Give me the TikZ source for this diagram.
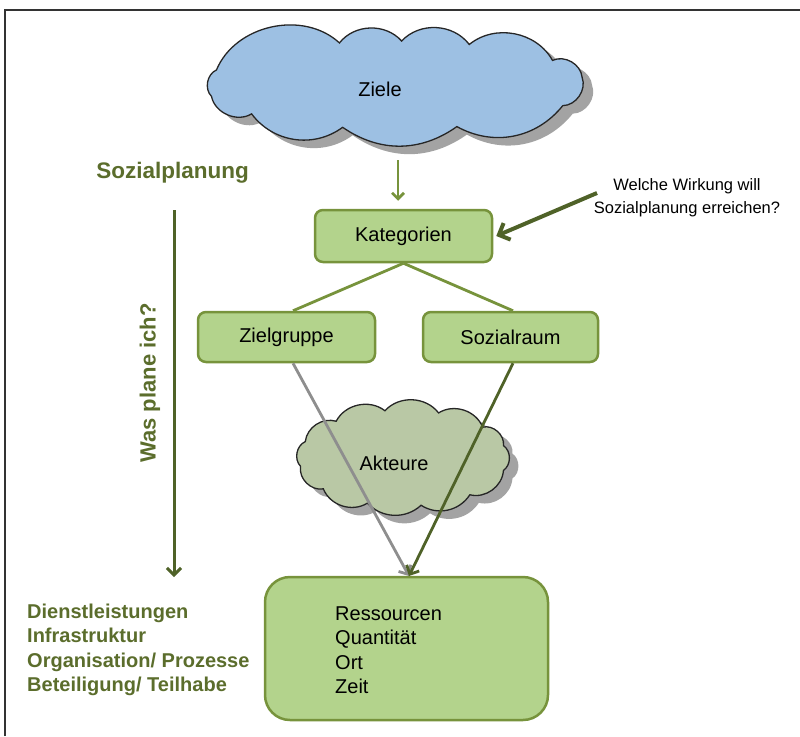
\documentclass[tikz,border=0pt]{standalone}
\usepackage{fontspec}
\setmainfont{Liberation Sans}
\usetikzlibrary{arrows.meta}
\definecolor{boxfill}{HTML}{B3D38C}
\definecolor{boxline}{HTML}{77933C}
\definecolor{darkgreen}{HTML}{4F6228}
\definecolor{olivetext}{HTML}{5B6D2C}
\definecolor{cloudblue}{HTML}{9DC0E3}
\definecolor{cloudgreen}{HTML}{B9C8A5}
\definecolor{shadowgray}{HTML}{A3A3A3}
\definecolor{arrowgray}{HTML}{8E8E8E}
% #1 style, #2 cx, #3 cy, #4 rx, #5 ry, #6 start angle, #7 macro holding list angle/bend
\newcommand\puffcloud[7]{%
  \path[#1] ({#2+#4*cos(#6)},{#3+#5*sin(#6)})
    \foreach \a/\b in #7 { to[bend left=\b] ({#2+#4*cos(\a)},{#3+#5*sin(\a)}) } -- cycle;}
\begin{document}
\begin{tikzpicture}[x=1pt,y=-1pt,
  box/.style={draw=boxline, fill=boxfill, line width=2.5pt, rounded corners=8pt,
    font=\fontsize{20}{24}\selectfont, inner sep=0pt},
  cloudline/.style={draw=black!85, line width=1.3pt, line join=miter},
  boldlabel/.style={text=olivetext, inner sep=0pt},
  conn/.style={draw=boxline, line width=2.8pt},
  barb/.style={-{Straight Barb[length=#1, width=2*#1]}}
]
\useasboundingbox (0,0) rectangle (800,736);
% frame
\draw[line width=1.5pt, black!80] (5,736) -- (5,10) -- (800,10);

% Ziele cloud
\coordinate (ziele) at (395,85);
\def\zieleangles{71/40, 106/35, 139/45, 165/55, 200/55, 253/55, 272/50, 293/50, 326/50, 350/55, 388/55}
\puffcloud{fill=shadowgray}{405}{93}{190}{44}{28}{\zieleangles}
\puffcloud{cloudline, fill=cloudblue}{395}{85}{190}{44}{28}{\zieleangles}
\node[font=\fontsize{20}{24}\selectfont, inner sep=0pt] (zieletext) at (380,89) {Ziele};

% boxes
\node[box, minimum width=177pt, minimum height=52pt] (kat) at (403.5,236) {Kategorien};
\node[box, minimum width=177pt, minimum height=50pt] (zg) at (286.5,337) {Zielgruppe};
\node[box, minimum width=175pt, minimum height=50pt] (sr) at (510.5,337) {Sozialraum};
\node[box, rounded corners=25pt, minimum width=283pt, minimum height=143pt] (res) at (406.5,648.5) {};
\node[anchor=west, align=left, inner sep=0pt, font=\fontsize{20}{24.5}\selectfont] (restext) at (335,650)
  {Ressourcen\\Quantit\"at\\Ort\\Zeit};

% top arrow
\coordinate (ztop) at (398,160);
\draw[conn, barb=6pt, shorten >=8pt] (ztop) -- (kat.north -| ztop);

% connectors Kategorien -> Zielgruppe / Sozialraum
\draw[conn] (kat.south) -- ([xshift=6.5pt]zg.north);
\draw[conn] (kat.south) -- ([xshift=2.5pt]sr.north);

% Welche Wirkung
\node[align=center, inner sep=0pt, font=\fontsize{16.5}{23}\selectfont] (welche) at (687,197.5)
  {Welche Wirkung will\\Sozialplanung erreichen?};
\coordinate (wstart) at (597,193);
\draw[darkgreen, line width=4pt, barb=9pt] (wstart) -- ([xshift=3pt]kat.east);

% Akteure cloud
\coordinate (akt) at (403,458);
\def\aktangles{50/50, 80/45, 110/45, 140/50, 170/55, 200/55, 230/50, 260/50, 290/50, 320/50, 345/55, 375/55}
\puffcloud{fill=shadowgray}{412}{466}{104}{48}{15}{\aktangles}
\puffcloud{cloudline, fill=cloudgreen}{403}{458}{104}{48}{15}{\aktangles}
\node[font=\fontsize{20}{24}\selectfont, inner sep=0pt] (akttext) at (394,463) {Akteure};

% lower arrows
\coordinate (tip) at (409,576);
\draw[arrowgray, line width=2.8pt, barb=7pt] ([xshift=6.5pt]zg.south) -- (tip);
\draw[darkgreen, line width=2.8pt, barb=7pt] ([xshift=2.5pt]sr.south) -- (tip);

% left side
\node[boldlabel, font=\bfseries\fontsize{22.5}{27}\selectfont] (sp) at (172.5,173) {Sozialplanung};
\coordinate (vtop) at (174,210);
\coordinate (vbot) at (174,577);
\draw[darkgreen, line width=3pt, barb=7pt] (vtop) -- (vbot);
\node[boldlabel, rotate=90, font=\bfseries\fontsize{22}{26}\selectfont] (was) at (150,383) {Was plane ich?};
\node[boldlabel, anchor=west, align=left, font=\bfseries\fontsize{20}{24.5}\selectfont] (list) at (27,650)
  {Dienstleistungen\\Infrastruktur\\Organisation/ Prozesse\\Beteiligung/ Teilhabe};
\end{tikzpicture}
\end{document}
